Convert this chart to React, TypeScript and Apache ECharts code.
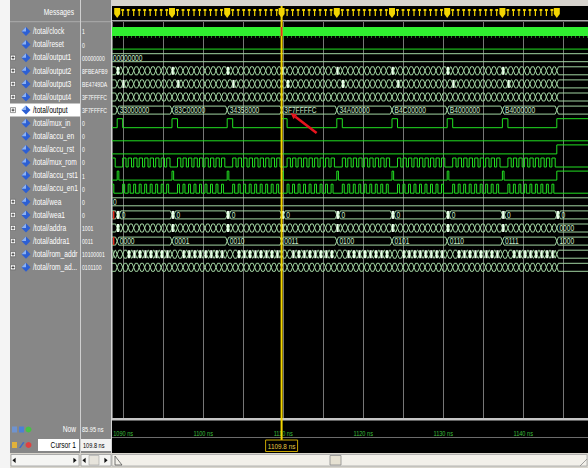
import React, { useEffect, useRef } from 'react';
import * as echarts from 'echarts';

const FONT = "'Liberation Sans', Arial, sans-serif";

// ---- signal list (wave window rows, top to bottom) ----
const signalNames = [
  '/total/clock', '/total/reset', '/total/output1', '/total/output2', '/total/output3',
  '/total/output4', '/total/output', '/total/mux_in', '/total/accu_en', '/total/accu_rst',
  '/total/mux_rom', '/total/accu_rst1', '/total/accu_en1', '/total/wea', '/total/wea1',
  '/total/addra', '/total/addra1', '/total/rom_addr', '/total/rom_ad...',
];
// values shown in the value column (at the cursor)
const cursorValues = [
  '1', '0', '00000000', '8FBEAFB9', 'BE4749DA', '3F7FFFFC', '3F7FFFFC', '0', '0', '0',
  '0', '1', '0', '0', '0', '1001', '0011', '10100001', '0101100',
];
const expandable = [false, false, true, true, true, true, true, false, false, false, false, false, false, true, true, true, true, true, true];
const selectedRow = 6;

// ---- time window (ns) ----
const timeStart = 1088.6;
const timeEnd = 1148.1;
const cursorTime = 1109.8;
const timeTicks = [1090, 1100, 1110, 1120, 1130, 1140];
const nowValue = '85.95 ns';
const cursorValue = '109.8 ns';
const cursorLabel = '1109.8 ns';

// ---- accumulate passes ----
const passStarts = [1082.4, 1089.25, 1096.1, 1103.0, 1109.8, 1116.7, 1123.6, 1130.5, 1137.4];
const settleTime = 1144.2;
const clockPeriod = 0.6875;
const glitchWidth = 0.2;

// clock cycles (within a pass) at which buses change / strobes are high
const everyEdge = [0, 1, 2, 3, 4, 5, 6, 7, 8, 9];
const muxInSlots = [0];
const muxRomSlots = [1, 2, 3, 4, 5, 6, 7, 8, 9];
const accuEn1Slots = [1, 2, 3, 4, 5, 6, 7, 8, 9];
const accuRst1Slots = [0];
const output2Glitches = [0];
const output3Glitches = [1];
const addraGlitches = [0];
const romAddrGlitches = [2, 3, 4, 5, 6, 7, 8, 9];

// bus words per pass
const outputWords = ['', '33000000', '83C00000', '34358000', '3F7FFFFC', '34A00000', 'B4C00000', 'B4000000', 'B4000000'];
const addra1Words = ['', '0000', '0001', '0010', '0011', '0100', '0101', '0110', '0111'];
const output1Word = '00000000';
const weaWord = '0';
const wea1Word = '0';
// words held after the last pass
const settledOutput2 = '8FFC7...';
const settledOutput3 = '3E778...';
const settledOutput4 = '00000000';
const settledOutput = '00000000';
const settledAddra = '0000';
const settledAddra1 = '1000';
const settledRomAddr = '00000000';
const settledRomAd = '00000000';
const unknownRows = [14, 16];

// ---- layout ----
const W = 588;
const H = 468;
const ROW_H = 13.1;
const FIRST_ROW_Y = 31.5;
const GRID_TOP = 22;
const GRID_BOTTOM = 418;
const WAVE_LEFT = 112;
const rowY = (i: number) => FIRST_ROW_Y + i * ROW_H;

const PANEL = '#878787';
const GREEN = '#22e022';
const CLOCK_GREEN = '#30f030';
const BUS = '#a2d4a2';
const BUS_TEXT = '#c8e8c8';
const BRIGHT = '#ecffec';
const YELLOW = '#f2d400';
const TEXT_SCALE = 0.78;
const VALUE_SCALE = 0.64;

type Interval = [number, number];
type Label = { t: number; text: string };
type Wave =
  | { kind: 'clock' }
  | { kind: 'bit'; high: Interval[] }
  | { kind: 'bus'; edges: number[]; labels: Label[] };

const at = (p: number, k: number) => p + k * clockPeriod;
const strobe = (slots: number[], duty: number): Interval[] =>
  passStarts.flatMap((p) => slots.map((k) => [at(p, k), at(p, k + duty)] as Interval));
const busEdges = (edgeSlots: number[], glitchSlots: number[]) =>
  passStarts
    .flatMap((p) => [...edgeSlots.map((k) => at(p, k)), ...glitchSlots.map((k) => at(p, k) + glitchWidth)])
    .sort((a, b) => a - b);
const perPass = (words: string[], offset = 0): Label[] =>
  passStarts.map((p, i) => ({ t: p + offset, text: words[i] })).filter((l) => l.text);

const waves: Wave[] = [
  { kind: 'clock' },
  { kind: 'bit', high: [] },
  { kind: 'bus', edges: [], labels: [{ t: timeStart, text: output1Word }] },
  { kind: 'bus', edges: [...busEdges(everyEdge, output2Glitches), settleTime], labels: [{ t: settleTime, text: settledOutput2 }] },
  { kind: 'bus', edges: [...busEdges(everyEdge, output3Glitches), settleTime], labels: [{ t: settleTime, text: settledOutput3 }] },
  { kind: 'bus', edges: [...busEdges(everyEdge, []), settleTime], labels: [{ t: settleTime, text: settledOutput4 }] },
  { kind: 'bus', edges: [...passStarts, settleTime], labels: [...perPass(outputWords), { t: settleTime, text: settledOutput }] },
  { kind: 'bit', high: [...strobe(muxInSlots, 1), [settleTime, Infinity]] },
  { kind: 'bit', high: [] },
  { kind: 'bit', high: [[settleTime, Infinity]] },
  { kind: 'bit', high: strobe(muxRomSlots, 0.6) },
  { kind: 'bit', high: [...strobe(accuRst1Slots, 0.3), [settleTime, Infinity]] },
  { kind: 'bit', high: strobe(accuEn1Slots, 0.35) },
  { kind: 'bus', edges: [], labels: [{ t: timeStart, text: weaWord }] },
  {
    kind: 'bus',
    edges: [...passStarts, settleTime].flatMap((p) => [p, p + 0.25]),
    labels: [...passStarts, settleTime].map((p) => ({ t: p + 0.25, text: wea1Word })),
  },
  { kind: 'bus', edges: [...busEdges(everyEdge, addraGlitches), settleTime], labels: [{ t: settleTime, text: settledAddra }] },
  { kind: 'bus', edges: [...passStarts, settleTime], labels: [...perPass(addra1Words), { t: settleTime, text: settledAddra1 }] },
  { kind: 'bus', edges: [...busEdges(everyEdge, romAddrGlitches), settleTime], labels: [{ t: settleTime, text: settledRomAddr }] },
  { kind: 'bus', edges: [...busEdges(everyEdge, []), settleTime], labels: [{ t: settleTime, text: settledRomAd }] },
];

// message markers in the strip above the waves: big one at each pass start, small ones on each clock
const markerData: number[][] = [];
[...passStarts, settleTime].forEach((p, i) => {
  markerData.push([p, 1]);
  if (i < passStarts.length) for (let k = 1; k <= 9; k++) markerData.push([at(p, k), 0]);
});
const visibleMarkers = markerData.filter(([t]) => t >= timeStart + 0.2 && t <= timeEnd);

function txt(x: number, y: number, text: string, fill: string, align = 'left', size = 8.5, scale = TEXT_SCALE, extra: any = {}) {
  return {
    type: 'text', x, y, scaleX: scale, ...extra,
    style: { text, fill, fontSize: size, fontFamily: FONT, align, verticalAlign: 'middle' },
  };
}

function renderSignal(_params: any, api: any) {
  const r = api.value(1);
  const wave = waves[r];
  const yc = api.coord([timeStart, r])[1];
  const X = (t: number) => api.coord([Math.min(Math.max(t, timeStart), timeEnd), r])[0];
  const xL = X(timeStart);
  const xR = X(timeEnd);
  const children: any[] = [];
  const top = yc - 4.5;
  const bot = yc + 4.5;

  if (wave.kind === 'clock') {
    children.push({ type: 'rect', shape: { x: xL, y: top, width: xR - xL, height: bot - top }, style: { fill: CLOCK_GREEN } });
  } else if (wave.kind === 'bit') {
    const highAt = (t: number) => wave.high.some(([a, b]) => a <= t && t < b);
    let y = highAt(timeStart) ? top : bot;
    const pts: number[][] = [[xL, y]];
    for (const [a, b] of wave.high) {
      if (b <= timeStart || a >= timeEnd) continue;
      if (a > timeStart) {
        const xa = X(a);
        pts.push([xa, bot], [xa, top]);
      }
      if (b < timeEnd) {
        const xb = X(b);
        pts.push([xb, top], [xb, bot]);
        y = bot;
      } else {
        y = top;
      }
    }
    pts.push([xR, y]);
    children.push({ type: 'polyline', shape: { points: pts }, style: { stroke: GREEN, fill: null, lineWidth: 1 } });
  } else {
    const bt = yc - 4;
    const bb = yc + 4;
    const inner = wave.edges.filter((t) => t > timeStart && t < timeEnd).sort((a, b) => a - b);
    const ts = [timeStart, ...inner, timeEnd];
    for (let i = 0; i < ts.length - 1; i++) {
      const a = ts[i];
      const b = ts[i + 1];
      const xa = X(a);
      const xb = X(b);
      const w = xb - xa;
      const openL = i > 0;
      const openR = i < ts.length - 2;
      if (openL && openR && w < 2.4) {
        children.push({ type: 'rect', shape: { x: xa - 0.3, y: bt, width: Math.max(w, 0.6) + 0.6, height: bb - bt }, style: { fill: BRIGHT } });
        continue;
      }
      const s = Math.min(1.6, w / 2);
      const sl = openL ? s : 0;
      const sr = openR ? s : 0;
      const tp: number[][] = [];
      const bp: number[][] = [];
      if (sl) { tp.push([xa, yc]); bp.push([xa, yc]); }
      tp.push([xa + sl, bt], [xb - sr, bt]);
      bp.push([xa + sl, bb], [xb - sr, bb]);
      if (sr) { tp.push([xb, yc]); bp.push([xb, yc]); }
      children.push({ type: 'polyline', shape: { points: tp }, style: { stroke: BUS, fill: null, lineWidth: 1 } });
      children.push({ type: 'polyline', shape: { points: bp }, style: { stroke: BUS, fill: null, lineWidth: 1 } });
      let label: Label | undefined = wave.labels.find((l) => Math.abs(l.t - a) < 1e-6);
      if (!label && i === 0) label = wave.labels.filter((l) => l.t <= timeStart + 1e-6).pop();
      if (label) {
        const room = w - sl - sr - 2;
        if (room >= label.text.length * 3.5) {
          children.push(txt(xa + sl + 1, yc + 0.5, label.text, BUS_TEXT, 'left', 8.5, TEXT_SCALE));
        }
      }
    }
    if (unknownRows.includes(r)) {
      children.push({ type: 'rect', shape: { x: xL + 1, y: bt, width: 1.4, height: bb - bt }, style: { fill: '#e02a1a' } });
    }
  }
  return { type: 'group', children };
}

function renderMarker(_params: any, api: any) {
  const x = api.coord([api.value(0), 0])[0];
  const big = api.value(1) === 1;
  if (big) {
    return {
      type: 'polygon',
      shape: { points: [[x - 3, 8], [x + 3, 8], [x + 3, 14], [x, 18], [x - 3, 14]] },
      style: { fill: YELLOW },
    };
  }
  return {
    type: 'group',
    children: [
      { type: 'rect', shape: { x: x - 1.4, y: 9, width: 2.8, height: 2 }, style: { fill: YELLOW } },
      { type: 'rect', shape: { x: x - 0.6, y: 9, width: 1.2, height: 7 }, style: { fill: YELLOW } },
    ],
  };
}

function renderTimeLabel(_params: any, api: any) {
  const t = api.value(0);
  const x = api.coord([t, 0])[0];
  return txt(x, 433, `${t} ns`, '#3cbc3c', 'center', 7.5, 0.75);
}

function renderCursor(_params: any, api: any) {
  const t = api.value(0);
  const [x, clockY] = api.coord([t, 0]);
  const outY = api.coord([t, selectedRow])[1];
  const tipX = x + 9;
  const tipY = outY + 3;
  const tailX = x + 35;
  const tailY = outY + 23;
  const ang = Math.atan2(tailY - tipY, tailX - tipX);
  const hl = 6;
  const hw = 3;
  const bx = tipX + Math.cos(ang) * hl;
  const by = tipY + Math.sin(ang) * hl;
  return {
    type: 'group',
    children: [
      { type: 'line', shape: { x1: x, y1: 6, x2: x, y2: 452 }, style: { stroke: YELLOW, lineWidth: 2 } },
      { type: 'rect', shape: { x: x - 0.9, y: clockY - 4.5, width: 1.8, height: 9 }, style: { fill: '#e2321c' } },
      { type: 'rect', shape: { x: x - 16, y: 440, width: 32, height: 11.5 }, style: { fill: '#000', stroke: '#c9a600', lineWidth: 1 } },
      txt(x, 446, cursorLabel, '#e8c840', 'center', 8, 0.8),
      { type: 'line', shape: { x1: tailX, y1: tailY, x2: bx, y2: by }, style: { stroke: '#e8141e', lineWidth: 2.5 } },
      {
        type: 'polygon',
        shape: {
          points: [
            [tipX, tipY],
            [bx + Math.sin(ang) * hw, by - Math.cos(ang) * hw],
            [bx - Math.sin(ang) * hw, by + Math.cos(ang) * hw],
          ],
        },
        style: { fill: '#e8141e' },
      },
    ],
  };
}

function tri(x: number, y: number, dir: number, fill = '#111') {
  return { type: 'polygon', shape: { points: [[x + dir * 1.6, y], [x - dir * 1.6, y - 2.6], [x - dir * 1.6, y + 2.6]] }, style: { fill } };
}

function buildGraphic() {
  const els: any[] = [];
  // white margin and gray signal/value panel
  els.push({ type: 'rect', shape: { x: 0, y: 0, width: 10, height: H }, style: { fill: '#f4f4f4' } });
  els.push({ type: 'rect', shape: { x: 10, y: 0, width: WAVE_LEFT - 10, height: 453 }, style: { fill: PANEL } });
  // header strip
  els.push({ type: 'rect', shape: { x: WAVE_LEFT, y: 0, width: W - WAVE_LEFT, height: 6 }, style: { fill: '#d6d3cd' } });
  els.push({ type: 'rect', shape: { x: WAVE_LEFT, y: 20, width: W - WAVE_LEFT, height: 1.6 }, style: { fill: '#a9a9a9' } });
  els.push({ type: 'rect', shape: { x: 10, y: 21, width: WAVE_LEFT - 10, height: 1.2 }, style: { fill: '#a4a4a4' } });
  els.push(txt(74, 12, 'Messages', '#ffffff', 'right'));
  // column dividers
  els.push({ type: 'rect', shape: { x: 80, y: 0, width: 1, height: 453 }, style: { fill: '#cfcfcf' } });
  els.push({ type: 'rect', shape: { x: 111, y: 0, width: 1, height: 453 }, style: { fill: '#d4d4d4' } });

  signalNames.forEach((name, i) => {
    const y = rowY(i);
    const sel = i === selectedRow;
    if (sel) els.push({ type: 'rect', shape: { x: 10, y: y - 6.5, width: 70, height: 13 }, style: { fill: '#ffffff' } });
    if (expandable[i]) {
      els.push({ type: 'rect', shape: { x: 10.5, y: y - 2.5, width: 5, height: 5 }, style: { fill: '#ffffff', stroke: '#555', lineWidth: 0.6 } });
      els.push({ type: 'rect', shape: { x: 11.5, y: y - 0.4, width: 3, height: 0.8 }, style: { fill: '#222' } });
      els.push({ type: 'rect', shape: { x: 12.6, y: y - 1.5, width: 0.8, height: 3 }, style: { fill: '#222' } });
    }
    els.push({ type: 'polygon', shape: { points: [[26, y - 4.5], [30.5, y], [26, y + 4.5], [21.5, y]] }, style: { fill: '#2c5fd4' } });
    els.push({ type: 'polygon', shape: { points: [[26, y - 4.5], [26, y], [21.5, y]] }, style: { fill: '#8db2f2' } });
    els.push(txt(33, y, name, sel ? '#000000' : '#ffffff'));
    els.push(txt(82, y, cursorValues[i], '#ffffff', 'left', 8, VALUE_SCALE));
  });

  // time ruler separators
  els.push({ type: 'rect', shape: { x: WAVE_LEFT, y: GRID_BOTTOM, width: W - WAVE_LEFT, height: 2.6 }, style: { fill: '#c6c6c6' }, z: 50 });
  els.push({ type: 'rect', shape: { x: WAVE_LEFT, y: 437, width: W - WAVE_LEFT, height: 1 }, style: { fill: '#6c6c6c' }, z: 50 });

  // Now row
  els.push({ type: 'rect', shape: { x: 12, y: 426.5, width: 5, height: 6 }, style: { fill: '#6f93cf' } });
  els.push({ type: 'rect', shape: { x: 19, y: 426.5, width: 5, height: 6 }, style: { fill: '#4d7fd6' } });
  els.push({ type: 'circle', shape: { cx: 28.5, cy: 429.5, r: 3 }, style: { fill: '#47c047' } });
  els.push(txt(76, 429.5, 'Now', '#ffffff', 'right'));
  els.push(txt(82, 429.5, nowValue, '#ffffff', 'left', 8, VALUE_SCALE + 0.06));

  // Cursor row
  els.push({ type: 'rect', shape: { x: 12, y: 442, width: 5, height: 6 }, style: { fill: '#e2b23a' } });
  els.push({ type: 'polygon', shape: { points: [[19, 448], [20.5, 448], [24.5, 442.5], [23, 442]] }, style: { fill: '#3a6ac8' } });
  els.push({ type: 'circle', shape: { cx: 28.5, cy: 445, r: 3 }, style: { fill: '#e04040' } });
  els.push({ type: 'rect', shape: { x: 38, y: 439, width: 41, height: 12 }, style: { fill: '#ffffff' } });
  els.push(txt(76, 445, 'Cursor 1', '#000000', 'right'));
  els.push({ type: 'rect', shape: { x: 81, y: 439, width: 30, height: 12 }, style: { fill: '#f2f2f2' } });
  els.push(txt(83, 445, cursorValue, '#000000', 'left', 8, VALUE_SCALE + 0.06));

  // scroll bar row
  els.push({ type: 'rect', shape: { x: 10, y: 453, width: W - 10, height: 15 }, style: { fill: '#d8d5cd' } });
  els.push({ type: 'rect', shape: { x: 11, y: 454.5, width: 68, height: 11.5 }, style: { fill: '#f5f5f3', stroke: '#9c9c9c', lineWidth: 0.8 } });
  els.push(tri(14, 460.3, -1));
  els.push(tri(75, 460.3, 1));
  els.push({ type: 'rect', shape: { x: 81, y: 454.5, width: 30, height: 11.5 }, style: { fill: '#f5f5f3', stroke: '#9c9c9c', lineWidth: 0.8 } });
  els.push(tri(84, 460.3, -1));
  els.push({ type: 'rect', shape: { x: 89, y: 455.5, width: 10, height: 9.5 }, style: { fill: '#e7e4dc', stroke: '#a0a0a0', lineWidth: 0.6 } });
  els.push(tri(106, 460.3, 1));
  els.push({ type: 'rect', shape: { x: WAVE_LEFT, y: 454.5, width: W - WAVE_LEFT - 1, height: 11.5 }, style: { fill: '#f2f0ea', stroke: '#a6a6a6', lineWidth: 0.8 } });
  els.push({ type: 'polyline', shape: { points: [[115, 456], [115, 465], [122, 465]] }, style: { stroke: '#555', fill: null, lineWidth: 0.8 } });
  els.push({ type: 'line', shape: { x1: 115, y1: 456, x2: 122, y2: 465 }, style: { stroke: '#555', lineWidth: 0.8 } });
  els.push({ type: 'rect', shape: { x: 330, y: 455.5, width: 11, height: 9.5 }, style: { fill: '#e6e1d2', stroke: '#8c8c8c', lineWidth: 0.8 } });
  els.push({ type: 'line', shape: { x1: 580, y1: 466, x2: 587, y2: 459 }, style: { stroke: '#8a8a8a', lineWidth: 0.8 } });
  return els;
}

export default function App() {
  const ref = useRef<HTMLDivElement>(null);
  useEffect(() => {
    if (!ref.current) return;
    const chart = echarts.init(ref.current, null, { renderer: 'svg', width: W, height: H });
    chart.setOption({
      animation: false,
      backgroundColor: '#000000',
      grid: { left: WAVE_LEFT, right: 0, top: GRID_TOP, bottom: H - GRID_BOTTOM, containLabel: false },
      xAxis: {
        type: 'value',
        min: timeStart,
        max: timeEnd,
        minInterval: 5,
        maxInterval: 5,
        splitNumber: 12,
        axisLine: { show: false },
        axisTick: { show: true, length: 8, lineStyle: { color: '#35a835', width: 1 } },
        minorTick: { show: true, splitNumber: 10, length: 6.5, lineStyle: { color: '#1d7d1d', width: 1 } },
        axisLabel: { show: false },
        splitLine: { show: true, lineStyle: { color: '#767676', width: 1 } },
      },
      yAxis: {
        type: 'value',
        inverse: true,
        min: -(FIRST_ROW_Y - GRID_TOP) / ROW_H,
        max: (GRID_BOTTOM - FIRST_ROW_Y) / ROW_H,
        show: false,
        splitLine: { show: false },
      },
      graphic: buildGraphic(),
      series: [
        {
          type: 'custom',
          renderItem: renderSignal,
          data: signalNames.map((_, i) => [timeStart, i]),
          clip: true,
          silent: true,
          z: 3,
        },
        {
          type: 'custom',
          renderItem: renderMarker,
          data: visibleMarkers,
          clip: false,
          silent: true,
          z: 4,
        },
        {
          type: 'custom',
          renderItem: renderTimeLabel,
          data: timeTicks.map((t) => [t, 0]),
          clip: false,
          silent: true,
          z: 5,
        },
        {
          type: 'custom',
          renderItem: renderCursor,
          data: [[cursorTime, 0]],
          clip: false,
          silent: true,
          z: 60,
        },
      ],
    });
    return () => chart.dispose();
  }, []);
  return <div ref={ref} style={{ position: 'fixed', left: 0, top: 0, width: W, height: H }} />;
}
